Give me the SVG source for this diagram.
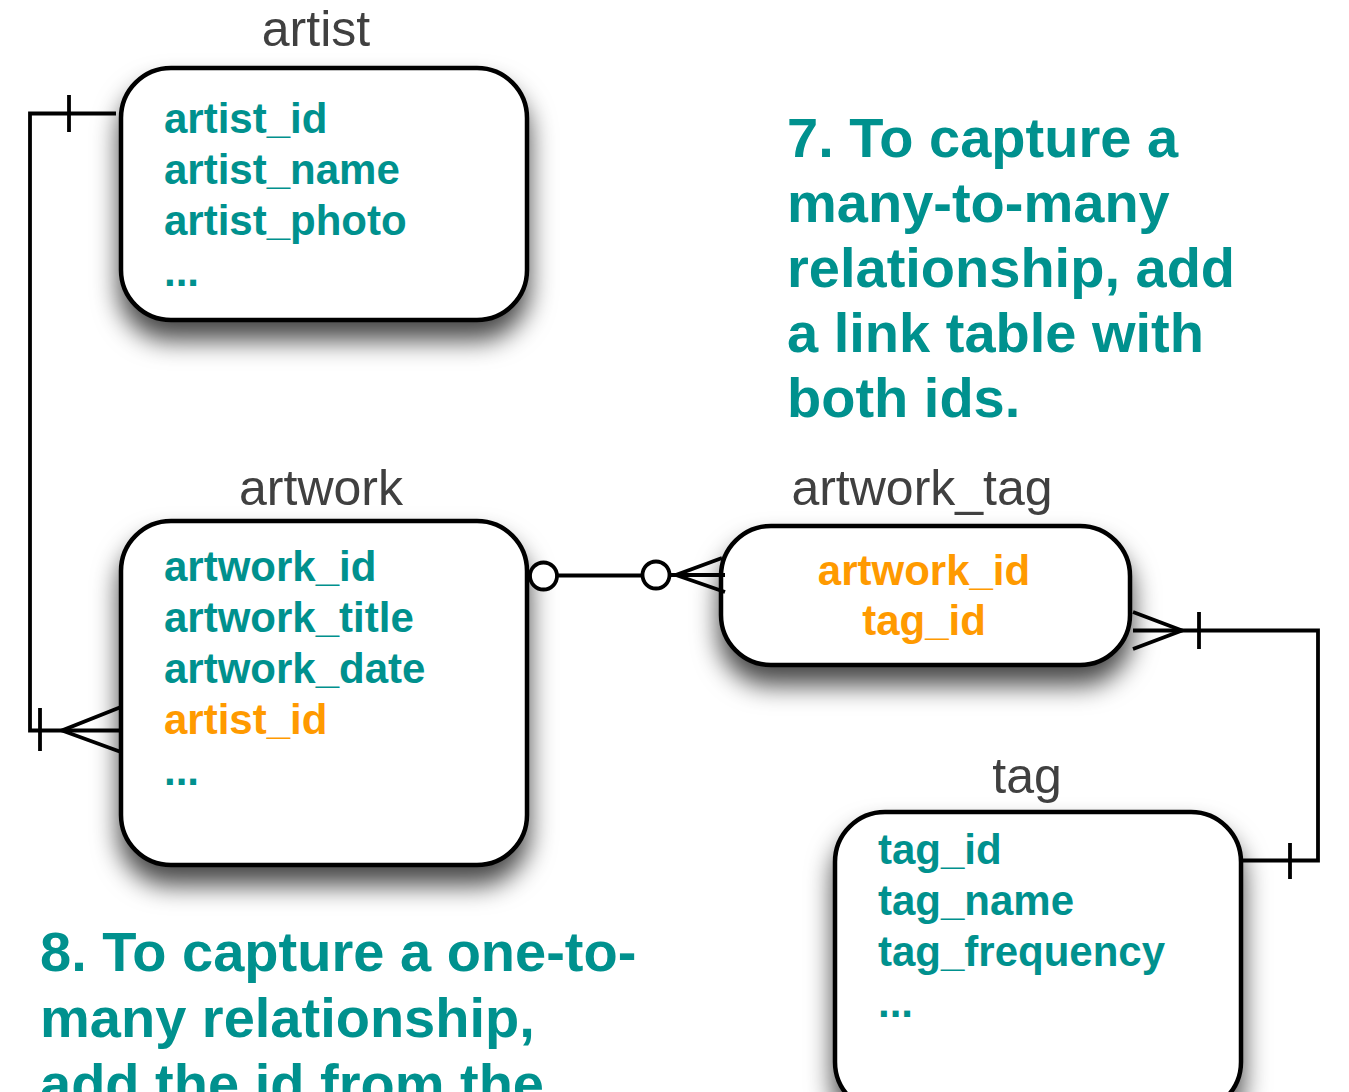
<svg xmlns="http://www.w3.org/2000/svg" width="1349" height="1092" viewBox="0 0 1349 1092">
<defs>
<filter id="sh" x="-20%" y="-20%" width="140%" height="170%">
<feDropShadow dx="0" dy="18" stdDeviation="13" flood-color="#000" flood-opacity="0.72"/>
</filter>
<style>
.box{fill:#fff;stroke:#000;stroke-width:4.5;filter:url(#sh)}
.title{font-family:"Liberation Sans",Arial,sans-serif;font-size:50px;fill:#404040;text-anchor:middle}
.f{font-family:"Liberation Sans",Arial,sans-serif;font-size:42px;font-weight:bold;fill:#00918e}
.o{fill:#ff9a00}
.note{font-family:"Liberation Sans",Arial,sans-serif;font-size:56px;font-weight:bold;fill:#00918e}
.c{fill:none;stroke:#000;stroke-width:3.8}
.ci{fill:#fff;stroke:#000;stroke-width:3.8}
</style>
</defs>
<rect width="1349" height="1092" fill="#fff"/>

<g id="artist">
<rect class="box" x="121" y="68" width="406" height="252" rx="50"/>
<text class="title" x="316" y="46">artist</text>
<text class="f" x="164" y="133">artist_id</text>
<text class="f" x="164" y="184">artist_name</text>
<text class="f" x="164" y="235">artist_photo</text>
<text class="f" x="164" y="286">...</text>
</g>

<g id="artwork">
<rect class="box" x="121" y="521" width="406" height="344" rx="50"/>
<text class="title" x="321" y="505">artwork</text>
<text class="f" x="164" y="581">artwork_id</text>
<text class="f" x="164" y="632">artwork_title</text>
<text class="f" x="164" y="683">artwork_date</text>
<text class="f o" x="164" y="734">artist_id</text>
<text class="f" x="164" y="785">...</text>
</g>

<g id="artwork_tag">
<rect class="box" x="721" y="526" width="409" height="139" rx="50"/>
<text class="title" x="922" y="505">artwork_tag</text>
<text class="f o" x="924" y="585" text-anchor="middle">artwork_id</text>
<text class="f o" x="924" y="635" text-anchor="middle">tag_id</text>
</g>

<g id="tag">
<rect class="box" x="835" y="812" width="406" height="300" rx="50"/>
<text class="title" x="1027" y="793">tag</text>
<text class="f" x="878" y="864">tag_id</text>
<text class="f" x="878" y="915">tag_name</text>
<text class="f" x="878" y="966">tag_frequency</text>
<text class="f" x="878" y="1017">...</text>
</g>

<g id="notes">
<text class="note" x="787" y="157">7. To capture a</text>
<text class="note" x="787" y="222">many-to-many</text>
<text class="note" x="787" y="287">relationship, add</text>
<text class="note" x="787" y="352">a link table with</text>
<text class="note" x="787" y="417">both ids.</text>
<text class="note" x="40" y="971">8. To capture a one-to-</text>
<text class="note" x="40" y="1037">many relationship,</text>
<text class="note" x="40" y="1103">add the id from the</text>
</g>

<g id="connectors">
<path class="c" d="M116 113.5 H30 V730.5 H121"/>
<path class="c" d="M69 95 V132"/>
<path class="c" d="M40 708 V751"/>
<path class="c" d="M121 707 L62 730.5 L121 752"/>
<path class="c" d="M557 575.5 H642"/>
<circle class="ci" cx="543.5" cy="576" r="13.5"/>
<circle class="ci" cx="656" cy="575" r="13.5"/>
<path class="c" d="M670 575 H725"/>
<path class="c" d="M722 558 L676 575 L725 592"/>
<path class="c" d="M1133 630.5 H1318 V860.5 H1243"/>
<path class="c" d="M1133 612 L1182 630.5 L1133 649"/>
<path class="c" d="M1199 612 V649"/>
<path class="c" d="M1290 843 V879"/>
</g>
</svg>
